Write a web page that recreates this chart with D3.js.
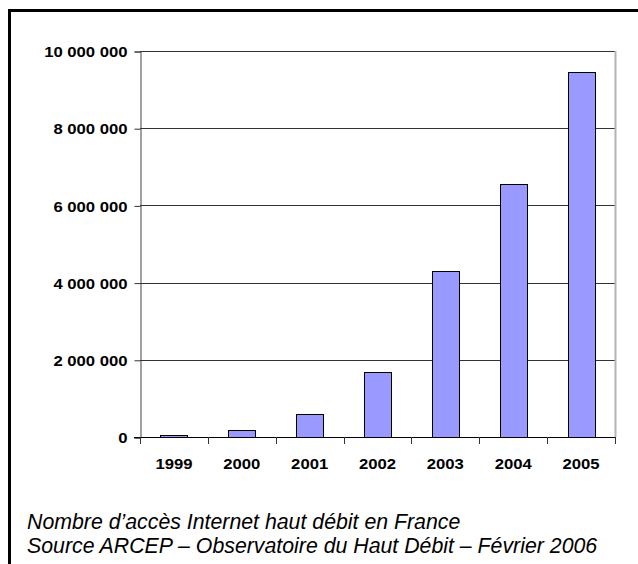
<!DOCTYPE html>
<html>
<head>
<meta charset="utf-8">
<script src="https://cdn.jsdelivr.net/npm/d3@7"></script>
<style>
  html, body { margin: 0; padding: 0; background: #fff; }
  svg { display: block; }
</style>
</head>
<body>
<svg id="chart" width="638" height="564"></svg>
<script>
// Broadband access lines in France, end of year
const years = ["1999", "2000", "2001", "2002", "2003", "2004", "2005"];
const accesses = [50000, 190000, 600000, 1680000, 4300000, 6550000, 9460000];
const yTicks = [0, 2000000, 4000000, 6000000, 8000000, 10000000];
const captionLines = [
  "Nombre d\u2019acc\u00e8s Internet haut d\u00e9bit en France",
  "Source ARCEP \u2013 Observatoire du Haut D\u00e9bit \u2013 F\u00e9vrier 2006"
];

const svg = d3.select("#chart");
const plot = { left: 140, right: 615, top: 51, bottom: 437 };
const labelStretch = 1.15;

const x = d3.scaleBand()
  .domain(years)
  .range([plot.left, plot.right])
  .paddingInner(0.6)
  .paddingOuter(0.3);

const y = d3.scaleLinear()
  .domain([0, 10000000])
  .range([plot.bottom, plot.top]);

const fmt = v => d3.format(",")(v).replace(/,/g, " ");

// outer frame
svg.append("rect")
  .attr("x", 9.5).attr("y", 10.5)
  .attr("width", 660).attr("height", 620)
  .attr("fill", "none")
  .attr("stroke", "#000")
  .attr("stroke-width", 3);

// horizontal gridlines
svg.append("g")
  .selectAll("line")
  .data(yTicks.filter(d => d > 0))
  .join("line")
  .attr("x1", plot.left).attr("x2", plot.right)
  .attr("y1", d => Math.round(y(d)) + 0.5)
  .attr("y2", d => Math.round(y(d)) + 0.5)
  .attr("stroke", "#333")
  .attr("stroke-width", 1);

// right border of plot area
svg.append("line")
  .attr("x1", plot.right + 0.5).attr("x2", plot.right + 0.5)
  .attr("y1", plot.top).attr("y2", plot.bottom)
  .attr("stroke", "#b4b4b4")
  .attr("stroke-width", 2);

// bars
svg.append("g")
  .selectAll("rect")
  .data(years.map((yr, i) => ({ yr, v: accesses[i] })))
  .join("rect")
  .attr("x", d => Math.round(x(d.yr)) + 0.5)
  .attr("y", d => Math.round(y(d.v)) + 0.5)
  .attr("width", Math.round(x.bandwidth()))
  .attr("height", d => Math.round(y(0)) - Math.round(y(d.v)))
  .attr("fill", "#9999ff")
  .attr("stroke", "#000")
  .attr("stroke-width", 1);

// y axis
const yAxis = d3.axisLeft(y)
  .tickValues(yTicks)
  .tickSize(6)
  .tickPadding(7)
  .tickFormat(fmt);

const gy = svg.append("g")
  .attr("transform", `translate(${plot.left + 0.5},0.5)`)
  .call(yAxis);
gy.select(".domain").attr("stroke", "#444");
gy.selectAll(".tick line").attr("stroke", "#333");
gy.selectAll(".tick text")
  .attr("font-family", "Arial, 'Liberation Sans', sans-serif")
  .attr("font-weight", "bold")
  .attr("font-size", 14.5)
  .attr("fill", "#000")
  .attr("dy", "0.36em")
  .attr("transform", function () {
    const tx = +d3.select(this).attr("x");
    return `translate(${tx * (1 - labelStretch)},0) scale(${labelStretch},1)`;
  });

// x axis: baseline with ticks at category boundaries
const step = x.step();
const bounds = d3.range(years.length + 1).map(i => plot.left + i * step);
svg.append("line")
  .attr("x1", plot.left - 6).attr("x2", plot.right + 1)
  .attr("y1", y(0) + 0.5).attr("y2", y(0) + 0.5)
  .attr("stroke", "#000");
svg.append("g")
  .selectAll("line")
  .data(bounds)
  .join("line")
  .attr("x1", d => Math.round(d) + 0.5).attr("x2", d => Math.round(d) + 0.5)
  .attr("y1", y(0)).attr("y2", y(0) + 7)
  .attr("stroke", "#333");

svg.append("g")
  .selectAll("text")
  .data(years)
  .join("text")
  .attr("transform", d => `translate(${x(d) + x.bandwidth() / 2},${plot.bottom + 32}) scale(${labelStretch},1)`)
  .attr("text-anchor", "middle")
  .attr("font-family", "Arial, 'Liberation Sans', sans-serif")
  .attr("font-weight", "bold")
  .attr("font-size", 14.5)
  .text(d => d);

// caption
svg.append("g")
  .selectAll("text")
  .data(captionLines)
  .join("text")
  .attr("x", 27)
  .attr("y", (d, i) => 529 + i * 24)
  .attr("font-family", "Arial, 'Liberation Sans', sans-serif")
  .attr("font-style", "italic")
  .attr("font-size", 21.3)
  .attr("fill", "#000")
  .text(d => d);
</script>
</body>
</html>
